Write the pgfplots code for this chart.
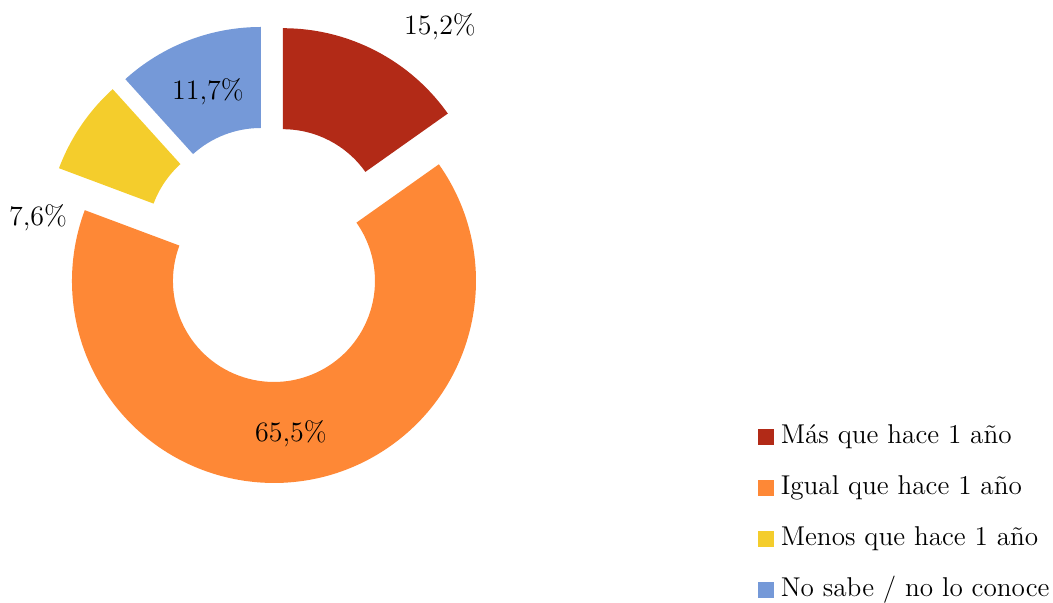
\documentclass[border=0pt]{standalone}
\usepackage{pgfplots}
\usepackage{pgfplotstable}
\pgfplotsset{compat=1.18}

\definecolor{cRed}{RGB}{178,42,23}
\definecolor{cOrange}{RGB}{254,136,54}
\definecolor{cYellow}{RGB}{244,205,44}
\definecolor{cBlue}{RGB}{117,153,216}

\pgfplotstableread{
label value
Mas 15.2
Igual 65.5
Menos 7.6
NoSabe 11.7
}\datatable

% donut geometry in pixel units of the 1053x603 canvas
\def\cx{270.5}\def\cy{348.8}\def\dex{27}
\def\Ro{202}\def\Ri{101}

\newcommand\makeslice[4]{% #1 name, #2 cumulative before, #3 value, #4 colour
  \pgfmathsetmacro\as{90-3.6*(#2)}%
  \pgfmathsetmacro\ae{90-3.6*((#2)+(#3))}%
  \pgfmathsetmacro\am{(\as+\ae)/2}%
  \pgfmathsetmacro\sx{\cx+\dex*cos(\am)}%
  \pgfmathsetmacro\sy{\cy+\dex*sin(\am)}%
  \pgfmathsetmacro\pax{\sx+\Ro*cos(\as)}%
  \pgfmathsetmacro\pay{\sy+\Ro*sin(\as)}%
  \pgfmathsetmacro\pbx{\sx+\Ri*cos(\ae)}%
  \pgfmathsetmacro\pby{\sy+\Ri*sin(\ae)}%
  \pgfmathsetmacro\rop{\Ro/2}%
  \pgfmathsetmacro\rip{\Ri/2}%
  \expandafter\xdef\csname #1\endcsname{\noexpand\fill[#4] (axis cs:\pax,\pay) arc[start angle=\as, end angle=\ae, radius=\rop pt] -- (axis cs:\pbx,\pby) arc[start angle=\ae, end angle=\as, radius=\rip pt] -- cycle;}%
}

\begin{document}%
\begin{tikzpicture}
\pgfplotstablegetelem{0}{value}\of\datatable\let\va\pgfplotsretval
\pgfplotstablegetelem{1}{value}\of\datatable\let\vb\pgfplotsretval
\pgfplotstablegetelem{2}{value}\of\datatable\let\vc\pgfplotsretval
\pgfplotstablegetelem{3}{value}\of\datatable\let\vd\pgfplotsretval
\pgfmathsetmacro\cb{\va}
\pgfmathsetmacro\cc{\va+\vb}
\pgfmathsetmacro\cd{\va+\vb+\vc}
\makeslice{sliceA}{0}{\va}{cRed}
\makeslice{sliceB}{\cb}{\vb}{cOrange}
\makeslice{sliceC}{\cc}{\vc}{cYellow}
\makeslice{sliceD}{\cd}{\vd}{cBlue}
\begin{axis}[
  scale only axis,
  width=526.5pt, height=301.5pt,
  xmin=0, xmax=1053, ymin=0, ymax=603,
  hide axis, clip=false, ticks=none,
  xtick=\empty, ytick=\empty,
  legend cell align=left,
  legend style={draw=none, fill=none, inner sep=0pt, outer sep=0pt,
    at={(axis description cs:0.7198,0.1493)}, anchor=west,
    row sep=12.5pt,
    font=\fontsize{13.6}{17}\selectfont,
    nodes={inner sep=0pt, text height=10pt, text depth=3pt}},
]
\coordinate (bbsw) at (axis cs:0,0);
\coordinate (bbne) at (axis cs:1053,603);
\sliceA
\sliceB
\sliceC
\sliceD
\addlegendimage{legend image code/.code={\fill[cRed] (0pt,-3.75pt) rectangle (7.5pt,3.75pt); \path (11pt,0pt);}}
\addlegendentry{Más que hace 1 año}
\addlegendimage{legend image code/.code={\fill[cOrange] (0pt,-3.75pt) rectangle (7.5pt,3.75pt); \path (11pt,0pt);}}
\addlegendentry{Igual que hace 1 año}
\addlegendimage{legend image code/.code={\fill[cYellow] (0pt,-3.75pt) rectangle (7.5pt,3.75pt); \path (11pt,0pt);}}
\addlegendentry{Menos que hace 1 año}
\addlegendimage{legend image code/.code={\fill[cBlue] (0pt,-3.75pt) rectangle (7.5pt,3.75pt); \path (11pt,0pt);}}
\addlegendentry{No sabe / no lo conoce}
\node[font=\fontsize{14}{17}\selectfont] at (axis cs:440,576) {15,2\%};
\node[font=\fontsize{14}{17}\selectfont] at (axis cs:208,511) {11,7\%};
\node[font=\fontsize{14}{17}\selectfont] at (axis cs:38,385) {7,6\%};
\node[font=\fontsize{14}{17}\selectfont] at (axis cs:291,169) {65,5\%};
\end{axis}
\pgfresetboundingbox
\useasboundingbox (bbsw) rectangle (bbne);
\end{tikzpicture}%
\end{document}
